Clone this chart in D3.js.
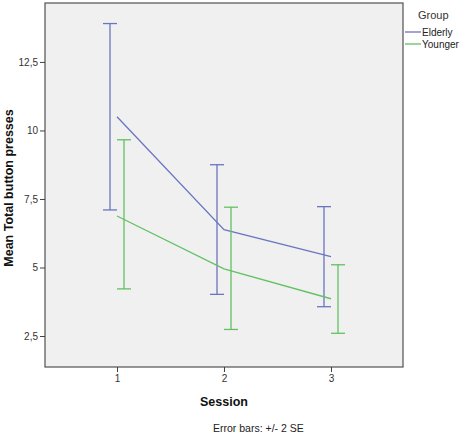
<!DOCTYPE html>
<html>
<head>
<meta charset="utf-8">
<script src="https://cdn.jsdelivr.net/npm/d3@7"></script>
<style>
body { margin: 0; background: #fff; }
text { font-family: "Liberation Sans", Arial, sans-serif; }
</style>
</head>
<body>
<svg id="chart" width="468" height="436"></svg>
<script>
var sessions = [1, 2, 3];
var groups = ["Elderly", "Younger"];
var colors = ["#6a75c0", "#62c162"];
var means = [[10.5, 6.38, 5.4], [6.88, 4.95, 3.86]];
var upper = [[13.9, 8.75, 7.22], [9.66, 7.2, 5.1]];
var lower = [[7.1, 4.02, 3.57], [4.22, 2.74, 2.6]];
var yTicks = [2.5, 5, 7.5, 10, 12.5];

var svg = d3.select("#chart");
var plotL = 45, plotR = 403, plotT = 3, plotB = 367;

var x = d3.scaleLinear().domain([0.327, 3.673]).range([plotL, plotR]);
var y = d3.scaleLinear().domain([1.37, 14.65]).range([plotB, plotT]);

svg.append("rect")
	.attr("x", plotL).attr("y", plotT)
	.attr("width", plotR - plotL).attr("height", plotB - plotT)
	.attr("fill", "#f0f0f0")
	.attr("stroke", "#505050")
	.attr("stroke-width", 1.2);

var fmt = function(d) { return String(d).replace(".", ","); };

var yAxis = svg.append("g")
	.attr("transform", "translate(" + plotL + ",0)")
	.call(d3.axisLeft(y).tickValues(yTicks).tickSize(5).tickPadding(2).tickFormat(fmt));
var xAxis = svg.append("g")
	.attr("transform", "translate(0," + plotB + ")")
	.call(d3.axisBottom(x).tickValues(sessions).tickSize(5).tickPadding(3).tickFormat(d3.format("d")));
[yAxis, xAxis].forEach(function(a) {
	a.select(".domain").remove();
	a.selectAll("line").attr("stroke", "#404040");
	a.selectAll("text").attr("fill", "#333").style("font-size", "10px");
});

var offs = [-7, 7];
groups.forEach(function(g, gi) {
	var line = d3.line()
		.x(function(d, i) { return x(sessions[i]); })
		.y(function(d) { return y(d); });
	svg.append("path")
		.datum(means[gi])
		.attr("d", line)
		.attr("fill", "none")
		.attr("stroke", colors[gi])
		.attr("stroke-width", 1.3);

	var bars = svg.append("g")
		.attr("stroke", colors[gi])
		.attr("stroke-width", 1.3)
		.selectAll("g")
		.data(sessions)
		.enter()
		.append("g");
	bars.append("line")
		.attr("x1", function(d) { return x(d) + offs[gi]; })
		.attr("x2", function(d) { return x(d) + offs[gi]; })
		.attr("y1", function(d, i) { return y(upper[gi][i]); })
		.attr("y2", function(d, i) { return y(lower[gi][i]); });
	[upper, lower].forEach(function(arr) {
		bars.append("line")
			.attr("x1", function(d) { return x(d) + offs[gi] - 7; })
			.attr("x2", function(d) { return x(d) + offs[gi] + 7; })
			.attr("y1", function(d, i) { return y(arr[gi][i]); })
			.attr("y2", function(d, i) { return y(arr[gi][i]); });
	});
});

// legend
svg.append("text")
	.attr("x", 418).attr("y", 19)
	.style("font-size", "11px").attr("fill", "#333")
	.text("Group");
groups.forEach(function(g, gi) {
	var ly = 32 + gi * 12;
	svg.append("line")
		.attr("x1", 405).attr("x2", 421)
		.attr("y1", ly).attr("y2", ly)
		.attr("stroke", colors[gi]).attr("stroke-width", 1.3);
	svg.append("text")
		.attr("x", 422).attr("y", ly + 3.5)
		.style("font-size", "10px").attr("fill", "#222")
		.text(g);
});

svg.append("text")
	.attr("x", 224).attr("y", 406)
	.attr("text-anchor", "middle")
	.style("font-size", "12.5px").style("font-weight", "bold")
	.attr("fill", "#111")
	.text("Session");

svg.append("text")
	.attr("transform", "translate(13,188) rotate(-90)")
	.attr("text-anchor", "middle")
	.style("font-size", "12.5px").style("font-weight", "bold")
	.attr("fill", "#111")
	.text("Mean Total button presses");

svg.append("text")
	.attr("x", 213).attr("y", 432)
	.style("font-size", "10.5px").attr("fill", "#222")
	.text("Error bars: +/- 2 SE");
</script>
</body>
</html>
